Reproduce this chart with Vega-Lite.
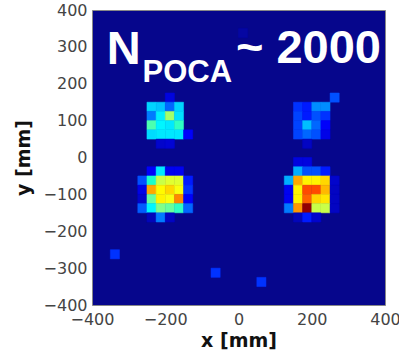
{
  "$schema": "https://vega.github.io/schema/vega-lite/v6.json",
  "autosize": {"type": "none"},
  "padding": {"left": 92, "top": 10, "right": 14, "bottom": 45},
  "width": 293,
  "height": 295,
  "background": "white",
  "config": {
    "view": {"fill": "#06068c", "stroke": "#888888", "strokeWidth": 1},
    "axis": {
      "grid": false, "domain": false, "ticks": false, "tickSize": 0,
      "labelFont": "DejaVu Sans", "labelFontSize": 16, "labelColor": "#444444",
      "titleFont": "DejaVu Sans", "titleFontSize": 19, "titleFontWeight": "bold", "titleColor": "#111111"
    }
  },
  "encoding": {
    "x": {"field": "x", "type": "quantitative",
      "scale": {"domain": [-400, 400], "nice": false, "zero": false},
      "axis": {"title": "x [mm]", "values": [-400, -200, 0, 200, 400], "labelPadding": 6, "titlePadding": 4, "labelFlush": false, "labelOverlap": false}},
    "y": {"field": "y", "type": "quantitative",
      "scale": {"domain": [-400, 400], "nice": false, "zero": false},
      "axis": {"title": "y [mm]", "values": [-400, -300, -200, -100, 0, 100, 200, 300, 400], "labelPadding": 5, "titlePadding": 10, "labelFlush": false, "labelOverlap": false}}
  },
  "layer": [
    {
      "data": {"values": [
        {"x": -250, "x2": -225, "y": -50, "y2": -25, "v": 0.12},
        {"x": -225, "x2": -200, "y": -50, "y2": -25, "v": 0.34},
        {"x": -200, "x2": -175, "y": -50, "y2": -25, "v": 0.11},
        {"x": -175, "x2": -150, "y": -50, "y2": -25, "v": 0.11},
        {"x": -275, "x2": -250, "y": -75, "y2": -50, "v": 0.16},
        {"x": -250, "x2": -225, "y": -75, "y2": -50, "v": 0.45},
        {"x": -225, "x2": -200, "y": -75, "y2": -50, "v": 0.58},
        {"x": -200, "x2": -175, "y": -75, "y2": -50, "v": 0.6},
        {"x": -175, "x2": -150, "y": -75, "y2": -50, "v": 0.6},
        {"x": -150, "x2": -125, "y": -75, "y2": -50, "v": 0.13},
        {"x": -275, "x2": -250, "y": -100, "y2": -75, "v": 0.1},
        {"x": -250, "x2": -225, "y": -100, "y2": -75, "v": 0.74},
        {"x": -225, "x2": -200, "y": -100, "y2": -75, "v": 0.63},
        {"x": -200, "x2": -175, "y": -100, "y2": -75, "v": 0.68},
        {"x": -175, "x2": -150, "y": -100, "y2": -75, "v": 0.62},
        {"x": -150, "x2": -125, "y": -100, "y2": -75, "v": 0.14},
        {"x": -275, "x2": -250, "y": -125, "y2": -100, "v": 0.07},
        {"x": -250, "x2": -225, "y": -125, "y2": -100, "v": 0.5},
        {"x": -225, "x2": -200, "y": -125, "y2": -100, "v": 0.64},
        {"x": -200, "x2": -175, "y": -125, "y2": -100, "v": 0.62},
        {"x": -175, "x2": -150, "y": -125, "y2": -100, "v": 0.78},
        {"x": -150, "x2": -125, "y": -125, "y2": -100, "v": 0.12},
        {"x": -275, "x2": -250, "y": -150, "y2": -125, "v": 0.17},
        {"x": -250, "x2": -225, "y": -150, "y2": -125, "v": 0.36},
        {"x": -225, "x2": -200, "y": -150, "y2": -125, "v": 0.52},
        {"x": -200, "x2": -175, "y": -150, "y2": -125, "v": 0.5},
        {"x": -175, "x2": -150, "y": -150, "y2": -125, "v": 0.46},
        {"x": -150, "x2": -125, "y": -150, "y2": -125, "v": 0.18},
        {"x": -250, "x2": -225, "y": -175, "y2": -150, "v": 0.05},
        {"x": -225, "x2": -200, "y": -175, "y2": -150, "v": 0.2},
        {"x": -200, "x2": -175, "y": -175, "y2": -150, "v": 0.06},

        {"x": 150, "x2": 175, "y": -25, "y2": 0, "v": 0.09},
        {"x": 175, "x2": 200, "y": -25, "y2": 0, "v": 0.09},
        {"x": 150, "x2": 175, "y": -50, "y2": -25, "v": 0.26},
        {"x": 175, "x2": 200, "y": -50, "y2": -25, "v": 0.16},
        {"x": 200, "x2": 225, "y": -50, "y2": -25, "v": 0.16},
        {"x": 225, "x2": 250, "y": -50, "y2": -25, "v": 0.13},
        {"x": 125, "x2": 150, "y": -75, "y2": -50, "v": 0.26},
        {"x": 150, "x2": 175, "y": -75, "y2": -50, "v": 0.74},
        {"x": 175, "x2": 200, "y": -75, "y2": -50, "v": 0.64},
        {"x": 200, "x2": 225, "y": -75, "y2": -50, "v": 0.64},
        {"x": 225, "x2": 250, "y": -75, "y2": -50, "v": 0.68},
        {"x": 250, "x2": 275, "y": -75, "y2": -50, "v": 0.07},
        {"x": 125, "x2": 150, "y": -100, "y2": -75, "v": 0.11},
        {"x": 150, "x2": 175, "y": -100, "y2": -75, "v": 0.64},
        {"x": 175, "x2": 200, "y": -100, "y2": -75, "v": 0.84},
        {"x": 200, "x2": 225, "y": -100, "y2": -75, "v": 0.84},
        {"x": 225, "x2": 250, "y": -100, "y2": -75, "v": 0.72},
        {"x": 250, "x2": 275, "y": -100, "y2": -75, "v": 0.06},
        {"x": 125, "x2": 150, "y": -125, "y2": -100, "v": 0.11},
        {"x": 150, "x2": 175, "y": -125, "y2": -100, "v": 0.64},
        {"x": 175, "x2": 200, "y": -125, "y2": -100, "v": 0.82},
        {"x": 200, "x2": 225, "y": -125, "y2": -100, "v": 0.68},
        {"x": 225, "x2": 250, "y": -125, "y2": -100, "v": 0.66},
        {"x": 250, "x2": 275, "y": -125, "y2": -100, "v": 0.06},
        {"x": 125, "x2": 150, "y": -150, "y2": -125, "v": 0.2},
        {"x": 150, "x2": 175, "y": -150, "y2": -125, "v": 0.76},
        {"x": 175, "x2": 200, "y": -150, "y2": -125, "v": 0.98},
        {"x": 200, "x2": 225, "y": -150, "y2": -125, "v": 0.58},
        {"x": 225, "x2": 250, "y": -150, "y2": -125, "v": 0.58},
        {"x": 250, "x2": 275, "y": -150, "y2": -125, "v": 0.06},
        {"x": 150, "x2": 175, "y": -175, "y2": -150, "v": 0.05},
        {"x": 175, "x2": 200, "y": -175, "y2": -150, "v": 0.13},
        {"x": 200, "x2": 225, "y": -175, "y2": -150, "v": 0.07},

        {"x": -200, "x2": -175, "y": 150, "y2": 175, "v": 0.09},
        {"x": -250, "x2": -225, "y": 125, "y2": 150, "v": 0.31},
        {"x": -225, "x2": -200, "y": 125, "y2": 150, "v": 0.29},
        {"x": -200, "x2": -175, "y": 125, "y2": 150, "v": 0.18},
        {"x": -175, "x2": -150, "y": 125, "y2": 150, "v": 0.31},
        {"x": -250, "x2": -225, "y": 100, "y2": 125, "v": 0.2},
        {"x": -225, "x2": -200, "y": 100, "y2": 125, "v": 0.35},
        {"x": -200, "x2": -175, "y": 100, "y2": 125, "v": 0.55},
        {"x": -175, "x2": -150, "y": 100, "y2": 125, "v": 0.33},
        {"x": -250, "x2": -225, "y": 75, "y2": 100, "v": 0.48},
        {"x": -225, "x2": -200, "y": 75, "y2": 100, "v": 0.36},
        {"x": -200, "x2": -175, "y": 75, "y2": 100, "v": 0.34},
        {"x": -175, "x2": -150, "y": 75, "y2": 100, "v": 0.46},
        {"x": -250, "x2": -225, "y": 50, "y2": 75, "v": 0.32},
        {"x": -225, "x2": -200, "y": 50, "y2": 75, "v": 0.34},
        {"x": -200, "x2": -175, "y": 50, "y2": 75, "v": 0.34},
        {"x": -175, "x2": -150, "y": 50, "y2": 75, "v": 0.34},
        {"x": -150, "x2": -125, "y": 50, "y2": 75, "v": 0.12},
        {"x": -225, "x2": -200, "y": 25, "y2": 50, "v": 0.07},
        {"x": -200, "x2": -175, "y": 25, "y2": 50, "v": 0.08},

        {"x": 250, "x2": 275, "y": 150, "y2": 175, "v": 0.16},
        {"x": 150, "x2": 175, "y": 125, "y2": 150, "v": 0.14},
        {"x": 175, "x2": 200, "y": 125, "y2": 150, "v": 0.13},
        {"x": 200, "x2": 225, "y": 125, "y2": 150, "v": 0.22},
        {"x": 225, "x2": 250, "y": 125, "y2": 150, "v": 0.22},
        {"x": 150, "x2": 175, "y": 100, "y2": 125, "v": 0.15},
        {"x": 175, "x2": 200, "y": 100, "y2": 125, "v": 0.13},
        {"x": 200, "x2": 225, "y": 100, "y2": 125, "v": 0.16},
        {"x": 225, "x2": 250, "y": 100, "y2": 125, "v": 0.14},
        {"x": 150, "x2": 175, "y": 75, "y2": 100, "v": 0.15},
        {"x": 175, "x2": 200, "y": 75, "y2": 100, "v": 0.28},
        {"x": 200, "x2": 225, "y": 75, "y2": 100, "v": 0.18},
        {"x": 225, "x2": 250, "y": 75, "y2": 100, "v": 0.12},
        {"x": 150, "x2": 175, "y": 50, "y2": 75, "v": 0.15},
        {"x": 175, "x2": 200, "y": 50, "y2": 75, "v": 0.18},
        {"x": 200, "x2": 225, "y": 50, "y2": 75, "v": 0.16},
        {"x": 225, "x2": 250, "y": 50, "y2": 75, "v": 0.1},
        {"x": 175, "x2": 200, "y": 25, "y2": 50, "v": 0.06},

        {"x": -350, "x2": -325, "y": -275, "y2": -250, "v": 0.14},
        {"x": -75, "x2": -50, "y": -325, "y2": -300, "v": 0.14},
        {"x": 50, "x2": 75, "y": -350, "y2": -325, "v": 0.14},
        {"x": 0, "x2": 25, "y": 325, "y2": 350, "v": 0.025}
      ]},
      "mark": {"type": "rect", "strokeWidth": 0.5},
      "encoding": {
        "x2": {"field": "x2"},
        "y2": {"field": "y2"},
        "color": {"field": "v", "type": "quantitative",
          "scale": {"domain": [0, 0.125, 0.375, 0.625, 0.875, 1], "range": ["#06068c", "#0000ff", "#00ffff", "#ffff00", "#ff0000", "#800000"]},
          "legend": null},
        "stroke": {"field": "v", "type": "quantitative",
          "scale": {"domain": [0, 0.125, 0.375, 0.625, 0.875, 1], "range": ["#06068c", "#0000ff", "#00ffff", "#ffff00", "#ff0000", "#800000"]},
          "legend": null}
      }
    },
    {
      "data": {"values": [
        {"x": -360, "y": 254, "label": "N"},
        {"x": -7, "y": 255, "label": "~ 2000"}
      ]},
      "mark": {"type": "text", "font": "Liberation Sans", "fontWeight": "bold", "fontSize": 47, "color": "white", "align": "left", "baseline": "alphabetic"},
      "encoding": {"text": {"field": "label"}}
    },
    {
      "data": {"values": [
        {"x": -262, "y": 205, "label": "POCA"}
      ]},
      "mark": {"type": "text", "font": "Liberation Sans", "fontWeight": "bold", "fontSize": 31, "color": "white", "align": "left", "baseline": "alphabetic"},
      "encoding": {"text": {"field": "label"}}
    }
  ]
}
